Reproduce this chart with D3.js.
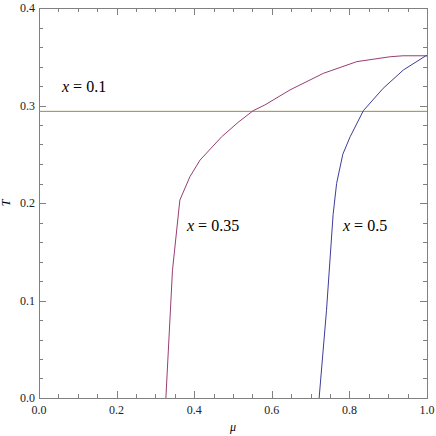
<!DOCTYPE html>
<html lang="en">
<head>
<meta charset="utf-8">
<title>T vs mu</title>
<script src="https://cdn.jsdelivr.net/npm/d3@7"></script>
<style>
  body { margin: 0; background: #fff; }
</style>
</head>
<body>
<script>
// phase boundaries T(mu)
var mu35 = [0.327, 0.344, 0.363, 0.389, 0.415, 0.471, 0.514, 0.552, 0.582, 0.647, 0.733, 0.819, 0.905, 0.938, 1.0];
var t35  = [0.0,   0.131, 0.203, 0.227, 0.244, 0.268, 0.283, 0.2947, 0.3005, 0.316, 0.333, 0.345, 0.350, 0.351, 0.351];

var mu5 = [0.722, 0.741, 0.758, 0.767, 0.783, 0.802, 0.836, 0.887, 0.939, 0.997, 1.0];
var t5  = [0.0,   0.090, 0.188, 0.220, 0.250, 0.268, 0.2947, 0.3176, 0.3364, 0.351, 0.351];

var t1 = 0.294;   // x = 0.1 is flat

var xMajor = [0, 0.2, 0.4, 0.6, 0.8, 1.0];
var yMajor = [0, 0.1, 0.2, 0.3, 0.4];

// note: "top" is taken by window.top, so use pl/pr/pt/pb
var w = 436, h = 436;
var pl = 39, pr = 427, pt = 8, pb = 398;
var serif = "'Liberation Serif', 'Times New Roman', serif";

var svg = d3.select("body").append("svg")
  .attr("width", w)
  .attr("height", h)
  .style("font-family", serif);

var x = d3.scaleLinear().domain([0, 1]).range([pl, pr]);
var y = d3.scaleLinear().domain([0, 0.4]).range([pb, pt]);

var frameColor = "#808080";

// minor ticks
var xMinor = d3.range(0, 1.0001, 0.05);
var yMinor = d3.range(0, 0.4001, 0.02);

function isMajor(v, step) {
  return Math.abs(v / step - Math.round(v / step)) < 1e-6;
}

var ticks = svg.append("g").attr("stroke", frameColor).attr("stroke-width", 1);

xMinor.forEach(function (v) {
  var len = isMajor(v, 0.2) ? 7 : 4;
  var px = Math.round(x(v)) + 0.5;
  ticks.append("line").attr("x1", px).attr("x2", px).attr("y1", pb).attr("y2", pb - len);
  ticks.append("line").attr("x1", px).attr("x2", px).attr("y1", pt).attr("y2", pt + len);
});
yMinor.forEach(function (v) {
  var len = isMajor(v, 0.1) ? 7 : 4;
  var py = Math.round(y(v)) + 0.5;
  ticks.append("line").attr("x1", pl).attr("x2", pl + len).attr("y1", py).attr("y2", py);
  ticks.append("line").attr("x1", pr).attr("x2", pr - len).attr("y1", py).attr("y2", py);
});

// frame
svg.append("rect")
  .attr("x", pl + 0.5).attr("y", pt + 0.5)
  .attr("width", pr - pl).attr("height", pb - pt)
  .attr("fill", "none")
  .attr("stroke", frameColor);

// tick labels
svg.selectAll(".xl").data(xMajor).enter().append("text")
  .attr("x", function (d) { return x(d); })
  .attr("y", pb + 16)
  .attr("text-anchor", "middle")
  .attr("font-size", 12)
  .attr("fill", "#222")
  .text(function (d) { return d.toFixed(1); });

svg.selectAll(".yl").data(yMajor).enter().append("text")
  .attr("x", pl - 4)
  .attr("y", function (d) { return y(d) + 4; })
  .attr("text-anchor", "end")
  .attr("font-size", 12)
  .attr("fill", "#222")
  .text(function (d) { return d.toFixed(1); });

// axis labels
svg.append("text")
  .attr("x", x(0.5))
  .attr("y", 431)
  .attr("text-anchor", "middle")
  .attr("font-size", 12)
  .attr("font-style", "italic")
  .text("\u03bc");

svg.append("text")
  .attr("transform", "translate(10," + y(0.2) + ") rotate(-90)")
  .attr("text-anchor", "middle")
  .attr("font-size", 12)
  .attr("font-style", "italic")
  .text("T");

// curves
var line = d3.line()
  .x(function (d) { return x(d[0]); })
  .y(function (d) { return y(d[1]); });

var plot = svg.append("g");

plot.append("path")
  .datum([[0, t1], [1, t1]])
  .attr("d", line)
  .attr("fill", "none")
  .attr("stroke", "#998c3d")
  .attr("stroke-width", 1);

plot.append("path")
  .datum(d3.zip(mu35, t35))
  .attr("d", line)
  .attr("fill", "none")
  .attr("stroke", "#993d73")
  .attr("stroke-width", 1);

plot.append("path")
  .datum(d3.zip(mu5, t5))
  .attr("d", line)
  .attr("fill", "none")
  .attr("stroke", "#3d3d99")
  .attr("stroke-width", 1);

// curve labels
var labels = [
  { text: "0.1", px: 62, py: 92 },
  { text: "0.35", px: 187, py: 231 },
  { text: "0.5", px: 343, py: 231 }
];

labels.forEach(function (l) {
  var t = svg.append("text")
    .attr("x", l.px)
    .attr("y", l.py)
    .attr("font-size", 16);
  t.append("tspan").attr("font-style", "italic").text("x");
  t.append("tspan").text(" = " + l.text);
});
</script>
</body>
</html>
